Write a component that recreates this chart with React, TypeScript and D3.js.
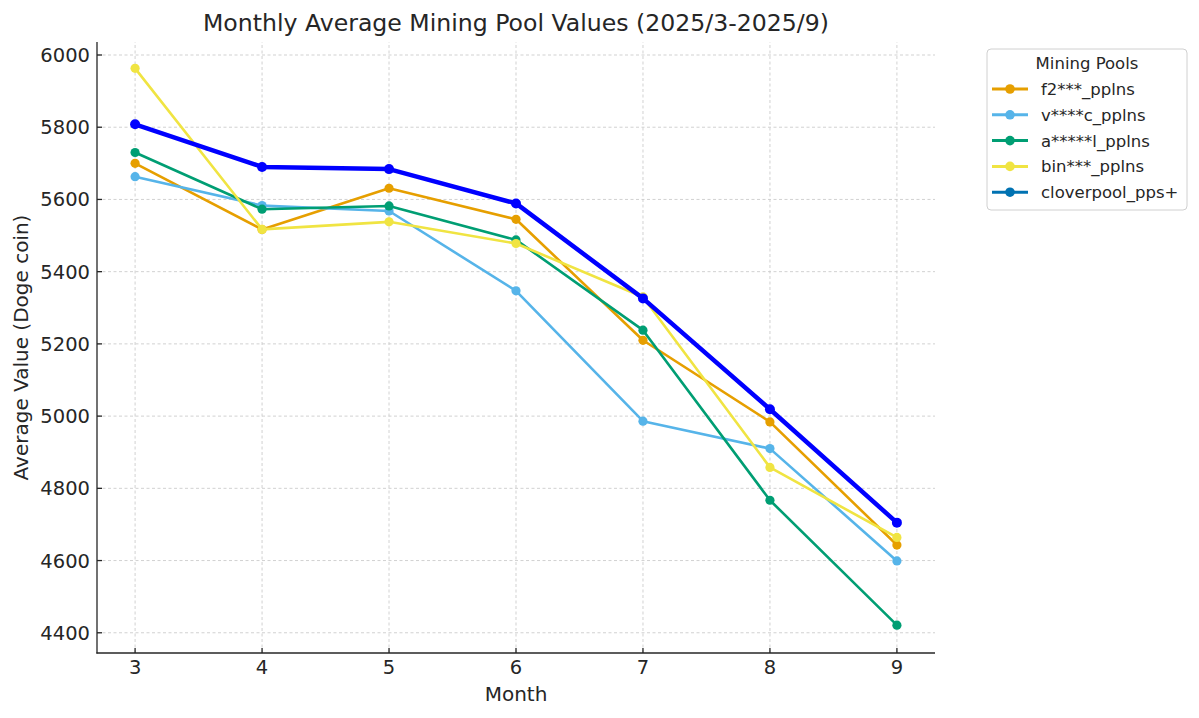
import React from "react";
import * as d3 from "d3";

const months = [3, 4, 5, 6, 7, 8, 9];

const poolNames = ["f2***_pplns", "v****c_pplns", "a*****l_pplns", "bin***_pplns", "cloverpool_pps+"];

const f2Values = [5700, 5517, 5631, 5545, 5210, 4984, 4643];
const vcValues = [5663, 5583, 5568, 5347, 4986, 4910, 4599];
const alValues = [5730, 5573, 5582, 5488, 5238, 4767, 4421];
const binValues = [5963, 5517, 5538, 5478, 5330, 4858, 4664];
const cloverValues = [5808, 5690, 5684, 5589, 5326, 5019, 4705];

const yTicks = [4400, 4600, 4800, 5000, 5200, 5400, 5600, 5800, 6000];

const colors = ["#E69F00", "#56B4E9", "#009E73", "#F0E442", "#0000FF"];
const legendColors = ["#E69F00", "#56B4E9", "#009E73", "#F0E442", "#0072B2"];

const series = [f2Values, vcValues, alValues, binValues, cloverValues];

const font = "DejaVu Sans, sans-serif";
const textColor = "#262626";

export default function App() {
  const width = 1199;
  const height = 718;
  const margin = { top: 42, right: 264, bottom: 65, left: 97 };

  const x = d3.scaleLinear().domain([2.7, 9.3]).range([margin.left, width - margin.right]);
  const y = d3.scaleLinear().domain([4344, 6036]).range([height - margin.bottom, margin.top]);

  const line = d3.line<number>()
    .x((_, i) => x(months[i]))
    .y((d) => y(d));

  const [x0, x1] = x.range();
  const [y0, y1] = y.range();

  const legendX = 987;
  const legendY = 49;
  const rowGap = 25.8;

  return (
    <div>
      <style>{`body { margin: 0; }`}</style>
      <svg width={width} height={height} style={{ display: "block", background: "#fff" }}>
        {/* grid */}
        <g stroke="#cccccc" strokeWidth={0.9} strokeDasharray="3,2.5">
          {months.map((m) => (
            <line key={"gx" + m} x1={x(m)} x2={x(m)} y1={y0} y2={y1} />
          ))}
          {yTicks.map((t) => (
            <line key={"gy" + t} x1={x0} x2={x1} y1={y(t)} y2={y(t)} />
          ))}
        </g>

        {/* series */}
        {series.map((vals, si) => {
          const isClover = si === series.length - 1;
          return (
            <g key={poolNames[si]}>
              <path
                d={line(vals) || ""}
                fill="none"
                stroke={colors[si]}
                strokeWidth={isClover ? 4.5 : 2.6}
                strokeLinejoin="round"
              />
              {vals.map((v, i) => (
                <circle key={i} cx={x(months[i])} cy={y(v)} r={isClover ? 5 : 4.6} fill={colors[si]} />
              ))}
            </g>
          );
        })}

        {/* axes */}
        <g stroke={textColor} strokeWidth={1.3}>
          <line x1={x0} x2={x0} y1={y1} y2={y0 + 0.6} />
          <line x1={x0 - 0.6} x2={x1} y1={y0} y2={y0} />
          {months.map((m) => (
            <line key={"tx" + m} x1={x(m)} x2={x(m)} y1={y0} y2={y0 - 5} />
          ))}
          {yTicks.map((t) => (
            <line key={"ty" + t} x1={x0} x2={x0 + 5} y1={y(t)} y2={y(t)} />
          ))}
        </g>
        <g fontFamily={font} fontSize={19.5} fill={textColor}>
          {months.map((m) => (
            <text key={"lx" + m} x={x(m)} y={y0 + 21} textAnchor="middle">{m}</text>
          ))}
          {yTicks.map((t) => (
            <text key={"ly" + t} x={x0 - 7} y={y(t)} dy="0.36em" textAnchor="end">{t}</text>
          ))}
        </g>

        <text x={(x0 + x1) / 2} y={701} textAnchor="middle" fontFamily={font} fontSize={20} fill={textColor}>
          Month
        </text>
        <text
          transform={`translate(28,${(y0 + y1) / 2}) rotate(-90)`}
          textAnchor="middle"
          fontFamily={font}
          fontSize={20}
          fill={textColor}
        >
          Average Value (Doge coin)
        </text>

        <text x={(x0 + x1) / 2} y={31} textAnchor="middle" fontFamily={font} fontSize={23.6} fill={textColor}>
          Monthly Average Mining Pool Values (2025/3-2025/9)
        </text>

        {/* legend */}
        <g fontFamily={font} fill={textColor}>
          <rect x={legendX} y={legendY} width={200} height={161} rx={4} fill="#fff" stroke="#d0d0d0" strokeWidth={1} />
          <text x={legendX + 100} y={legendY + 14} dy="0.36em" textAnchor="middle" fontSize={16.5}>Mining Pools</text>
          {poolNames.map((name, i) => {
            const ry = legendY + 40 + i * rowGap;
            return (
              <g key={name}>
                <line x1={legendX + 5} x2={legendX + 41} y1={ry} y2={ry} stroke={legendColors[i]} strokeWidth={3} />
                <circle cx={legendX + 23} cy={ry} r={4.8} fill={legendColors[i]} />
                <text x={legendX + 54} y={ry} dy="0.36em" fontSize={16.5}>{name}</text>
              </g>
            );
          })}
        </g>
      </svg>
    </div>
  );
}
